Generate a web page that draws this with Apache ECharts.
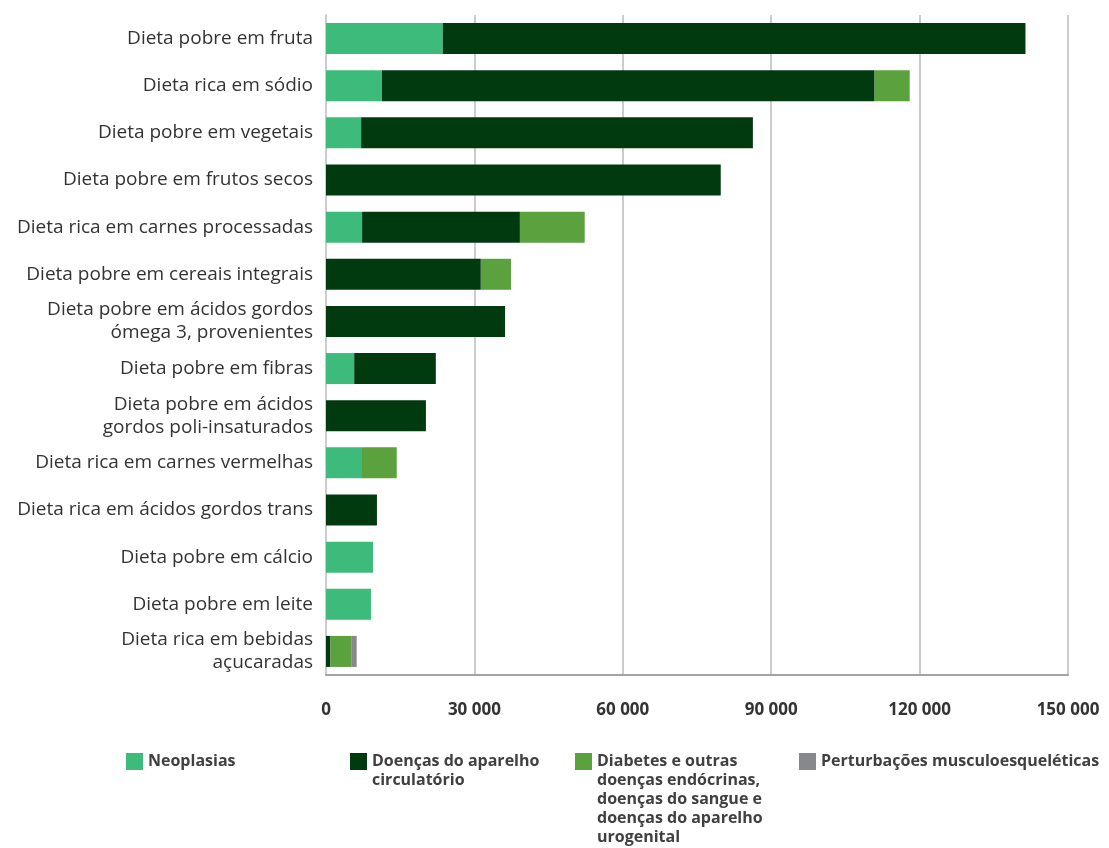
<!DOCTYPE html>
<html>
<head>
<meta charset="utf-8">
<script src="https://cdn.jsdelivr.net/npm/echarts@6/dist/echarts.min.js"></script>
<style>
  html, body { margin: 0; padding: 0; background: #ffffff; }
  #chart { width: 1109px; height: 848px; }
</style>
</head>
<body>
<div id="chart"></div>
<script>
// Risk factors (top to bottom)
const categories = [
  'Dieta pobre em fruta',
  'Dieta rica em sódio',
  'Dieta pobre em vegetais',
  'Dieta pobre em frutos secos',
  'Dieta rica em carnes processadas',
  'Dieta pobre em cereais integrais',
  'Dieta pobre em ácidos gordos\nómega 3, provenientes',
  'Dieta pobre em fibras',
  'Dieta pobre em ácidos\ngordos poli-insaturados',
  'Dieta rica em carnes vermelhas',
  'Dieta rica em ácidos gordos trans',
  'Dieta pobre em cálcio',
  'Dieta pobre em leite',
  'Dieta rica em bebidas\naçucaradas'
];

// Values per disease group
const neoplasias     = [23600, 11300, 7100, 0, 7300, 0, 0, 5700, 0, 7100, 0, 9500, 9100, 0];
const circulatorio   = [117800, 99600, 79200, 79800, 31900, 31300, 36200, 16500, 20200, 0, 10300, 0, 0, 900];
const diabetes       = [0, 7100, 0, 0, 13100, 6100, 0, 0, 0, 7200, 0, 0, 0, 4300];
const musculo        = [0, 0, 0, 0, 0, 0, 0, 0, 0, 0, 0, 0, 0, 1000];

// Axis ticks
const xTicks = [0, 30000, 60000, 90000, 120000, 150000];

const seriesNames = [
  'Neoplasias',
  'Doenças do aparelho\ncirculatório',
  'Diabetes e outras\ndoenças endócrinas,\ndoenças do sangue e\ndoenças do aparelho\nurogenital',
  'Perturbações musculoesqueléticas'
];
const seriesData = [neoplasias, circulatorio, diabetes, musculo];
const colors = ['#3dbb7b', '#023a10', '#5ba13e', '#87888c'];

const fmt = v => String(v).replace(/\B(?=(\d{3})+(?!\d))/g, ' ');

// One legend per series so that each multi-line label hangs from the top of its swatch
const legendLeft = [126, 350, 575, 799];
const LH = 19;
const SW = 17;
const swatchTop = 753;
const legends = seriesNames.map((name, i) => {
  const lines = name.split('\n').length;
  // text block is centred on the swatch; leading blank lines push the first line level with it
  const blockTop = SW / 2 - (2 * lines - 1) * LH / 2;
  return {
    data: [name],
    left: legendLeft[i],
    top: swatchTop + Math.min(0, blockTop),
    orient: 'vertical',
    padding: 0,
    itemWidth: SW,
    itemHeight: SW,
    icon: 'rect',
    selectedMode: false,
    formatter: n => '\n'.repeat(lines - 1) + n,
    textStyle: {
      fontFamily: 'Open Sans',
      fontWeight: 'bold',
      fontSize: 16,
      color: '#404040',
      lineHeight: LH
    }
  };
});

const chart = echarts.init(document.getElementById('chart'), null, { renderer: 'canvas' });
chart.setOption({
  animation: false,
  backgroundColor: '#ffffff',
  color: colors,
  grid: { left: 326, right: 41, top: 15, bottom: 173, containLabel: false },
  legend: legends,
  xAxis: {
    type: 'value',
    min: xTicks[0],
    max: xTicks[xTicks.length - 1],
    interval: xTicks[1] - xTicks[0],
    axisLine: { show: true, lineStyle: { color: '#a3a3a3', width: 2 } },
    axisTick: { show: false },
    splitLine: { show: true, lineStyle: { color: '#cccccc', width: 2 } },
    axisLabel: {
      margin: 27,
      fontFamily: 'Open Sans',
      fontWeight: 'bold',
      fontSize: 17,
      color: '#333333',
      formatter: v => fmt(v)
    }
  },
  yAxis: {
    type: 'category',
    inverse: true,
    data: categories,
    axisLine: { show: true, lineStyle: { color: '#cccccc', width: 2 } },
    axisTick: { show: false },
    axisLabel: {
      margin: 13,
      fontFamily: 'Open Sans',
      fontSize: 19,
      color: '#333333',
      lineHeight: 23,
      align: 'right'
    }
  },
  series: seriesNames.map((name, i) => ({
    name: name,
    type: 'bar',
    stack: 'total',
    barWidth: 31,
    data: seriesData[i],
    itemStyle: { color: colors[i] }
  }))
});
</script>
</body>
</html>
